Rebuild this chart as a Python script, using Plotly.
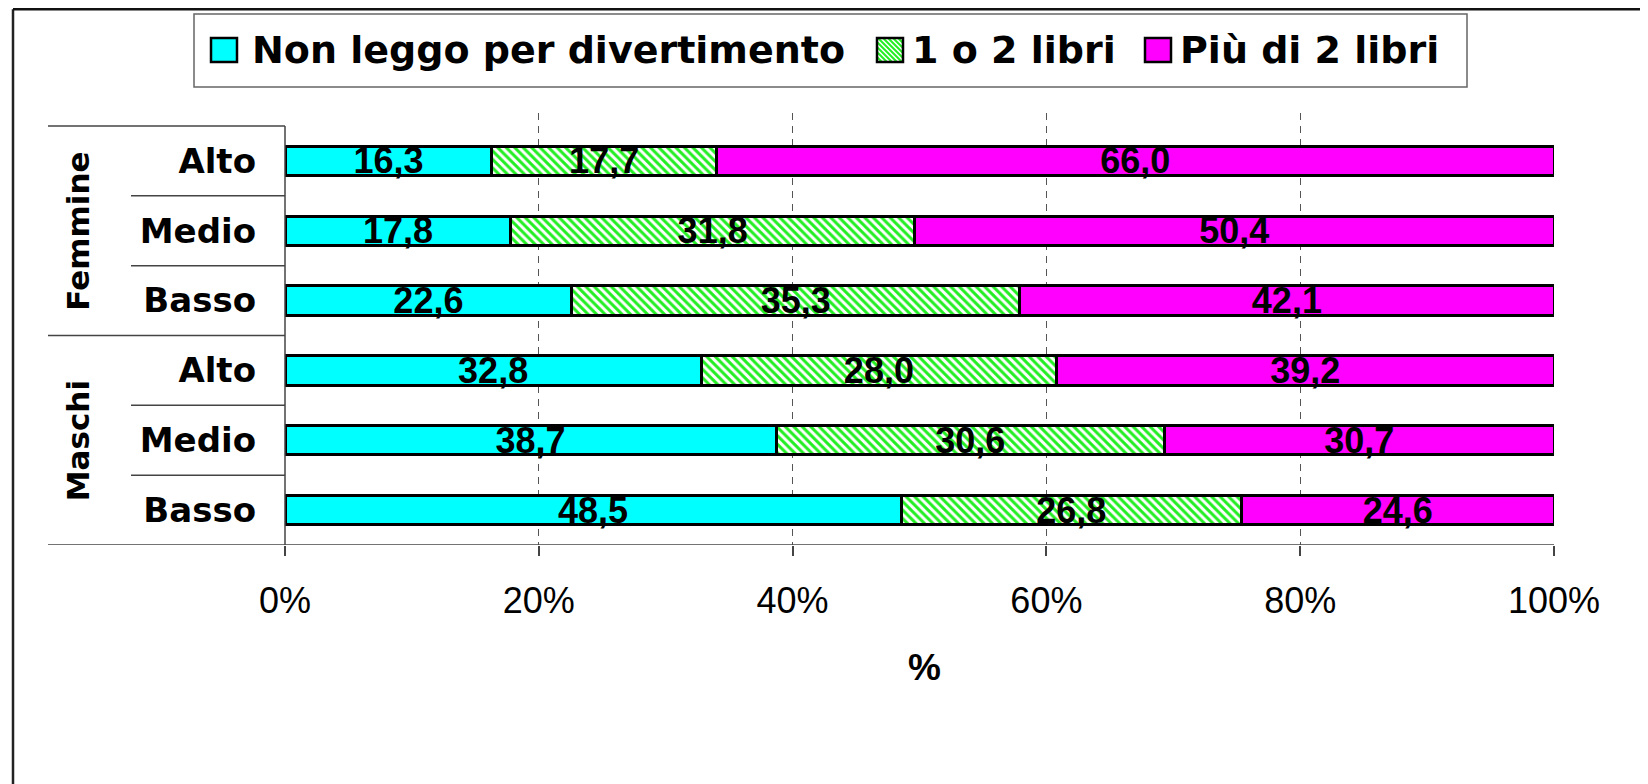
import plotly.graph_objects as go

# ---------------- data ----------------
genders = ["Femmine", "Femmine", "Femmine", "Maschi", "Maschi", "Maschi"]
levels = ["Alto", "Medio", "Basso", "Alto", "Medio", "Basso"]
series_names = ["Non leggo per divertimento", "1 o 2 libri", "Più di 2 libri"]
non_leggo = [16.3, 17.8, 22.6, 32.8, 38.7, 48.5]
uno_due = [17.7, 31.8, 35.3, 28.0, 30.6, 26.8]
piu_di_due = [66.0, 50.4, 42.1, 39.2, 30.7, 24.6]
tick_vals = [0, 20, 40, 60, 80, 100]
tick_labels = ["0%", "20%", "40%", "60%", "80%", "100%"]
grid_vals = [20, 40, 60, 80]
x_title = "%"

# ---------------- layout geometry (pixels, page coordinates) ----------------
PAGE_W, PAGE_H = 1648, 784
BODY = 8                      # default body margin of the html page
W, H = PAGE_W - BODY, PAGE_H - BODY
L, R, T, B = 285, 1554, 113, 545


def px(x):
    return (x - L) / (R - L)


def py(y):
    return (B - y) / (B - T)


cats = [f"{g} {l}" for g, l in zip(genders, levels)]
n = len(cats)
row_h = 69.8
top_extra = (126 - T) / row_h

CYAN = "#00FFFF"
MAGENTA = "#FF00FF"
GREEN = "#22EE22"
LINE_GRAY = "#444444"


def fmt(v):
    return f"{v:.1f}".replace(".", ",")


fig = go.Figure()
series = [
    (series_names[0], non_leggo, CYAN, None),
    (series_names[1], uno_due, GREEN, dict(shape="\\", fgcolor=GREEN, bgcolor="white",
                                            size=6, solidity=0.5, fillmode="replace")),
    (series_names[2], piu_di_due, MAGENTA, None),
]
for name, vals, col, pat in series:
    marker = dict(color=col, line=dict(color="black", width=3))
    if pat:
        marker["pattern"] = pat
    fig.add_trace(go.Bar(
        y=cats, x=vals, orientation="h", name=name, marker=marker,
        width=0.42,
        text=[fmt(v) for v in vals],
        textposition="inside", insidetextanchor="middle", textangle=0,
        constraintext="none",
        textfont=dict(family="Liberation Sans", size=36, color="black", weight="bold"),
        showlegend=False, hoverinfo="skip",
    ))

shapes = []
# outer frame (left and top edges; the rest runs off the canvas)
frame_top = BODY + 1.2
shapes.append(dict(type="line", xref="paper", yref="paper", x0=px(13), x1=px(13),
                   y0=py(frame_top), y1=py(820), line=dict(color="#222", width=2.5)))
shapes.append(dict(type="line", xref="paper", yref="paper", x0=px(13), x1=px(1700),
                   y0=py(frame_top), y1=py(frame_top), line=dict(color="#111", width=2.5)))

# category dividers
bounds = [i - 0.5 for i in range(n + 1)]
for b in bounds:
    i_above = int(b - 0.5) if b > 0 else None
    i_below = int(b + 0.5) if b + 0.5 < n else None
    group_edge = (i_above is None or i_below is None or genders[i_above] != genders[i_below])
    x0 = px(48) if group_edge else px(131)
    x1 = 1 if i_below is None else 0
    shapes.append(dict(type="line", xref="paper", yref="y", x0=x0, x1=x1, y0=b, y1=b,
                       line=dict(color=LINE_GRAY, width=1.5)))
# vertical category axis line
shapes.append(dict(type="line", xref="paper", yref="y", x0=0, x1=0, y0=-0.5,
                   y1=n - 0.5 + 10 / row_h, line=dict(color=LINE_GRAY, width=1.5)))

# legend box
shapes.append(dict(type="rect", xref="paper", yref="paper", x0=px(194), x1=px(1467),
                   y0=py(87), y1=py(14), line=dict(color="#666", width=1.5), fillcolor="white"))
sw = [(211, 237), (877, 903), (1145, 1171)]
sy0, sy1 = 38, 62
legend_text_x = [250, 910, 1178]
for k, (x0, x1) in enumerate(sw):
    col = [CYAN, "white", MAGENTA][k]
    shapes.append(dict(type="rect", xref="paper", yref="paper", x0=px(x0), x1=px(x1),
                       y0=py(sy1), y1=py(sy0), line=dict(width=0), fillcolor=col))
    if k == 1:
        hgt = sy1 - sy0
        wid = x1 - x0
        off = -hgt
        while off < wid:
            ax, ay = x0 + off, sy0
            bx, by = x0 + off + hgt, sy1
            if ax < x0:
                ay += (x0 - ax)
                ax = x0
            if bx > x1:
                by -= (bx - x1)
                bx = x1
            if bx > ax:
                shapes.append(dict(type="line", xref="paper", yref="paper",
                                   x0=px(ax), x1=px(bx), y0=py(ay), y1=py(by),
                                   line=dict(color=GREEN, width=2)))
            off += 5
    shapes.append(dict(type="rect", xref="paper", yref="paper", x0=px(x0), x1=px(x1),
                       y0=py(sy1), y1=py(sy0), line=dict(color="black", width=2.5)))

annotations = []
for k, name in enumerate(series_names):
    annotations.append(dict(text=name, xref="paper", yref="paper", x=px(legend_text_x[k]),
                            y=py(50), xanchor="left", yanchor="middle", showarrow=False,
                            font=dict(family="DejaVu Sans", size=38, color="black", weight="bold")))

# group labels (rotated)
for g in dict.fromkeys(genders):
    idx = [i for i, gg in enumerate(genders) if gg == g]
    center = sum(idx) / len(idx)
    annotations.append(dict(text=g, xref="paper", yref="y", x=px(78), y=center,
                            xanchor="center", yanchor="middle", textangle=-90, showarrow=False,
                            font=dict(family="DejaVu Sans", size=31, color="black", weight="bold")))

annotations.append(dict(text=x_title, xref="paper", yref="paper", x=px(925), y=py(667),
                        xanchor="center", yanchor="middle", showarrow=False,
                        font=dict(family="Liberation Sans", size=37, color="black", weight="bold")))

fig.update_layout(
    width=W, height=H,
    margin=dict(l=L - BODY, r=W - (R - BODY), t=T - BODY, b=H - (B - BODY), pad=0),
    paper_bgcolor="white", plot_bgcolor="white",
    barmode="stack", barnorm="percent",
    showlegend=False,
    shapes=shapes, annotations=annotations,
    xaxis=dict(range=[0, 100], tickvals=tick_vals, ticktext=tick_labels,
               tickfont=dict(family="Liberation Sans", size=36, color="black"),
               ticks="outside", ticklen=10, tickcolor=LINE_GRAY, tickwidth=1.5,
               ticklabelstandoff=14,
               showline=False, showgrid=False, zeroline=False,
               minor=dict(tickvals=grid_vals, showgrid=True, gridcolor="#555",
                          griddash="7px,6px", gridwidth=1.2, ticks="")),
    yaxis=dict(type="category", categoryorder="array", categoryarray=cats,
               range=[n - 0.5, -0.5 - top_extra],
               tickvals=cats, ticktext=levels,
               tickfont=dict(family="DejaVu Sans", size=34, color="black", weight="bold"),
               ticks="", ticklabelstandoff=28,
               showline=False, showgrid=False, zeroline=False),
)

fig.write_html("out.html")
